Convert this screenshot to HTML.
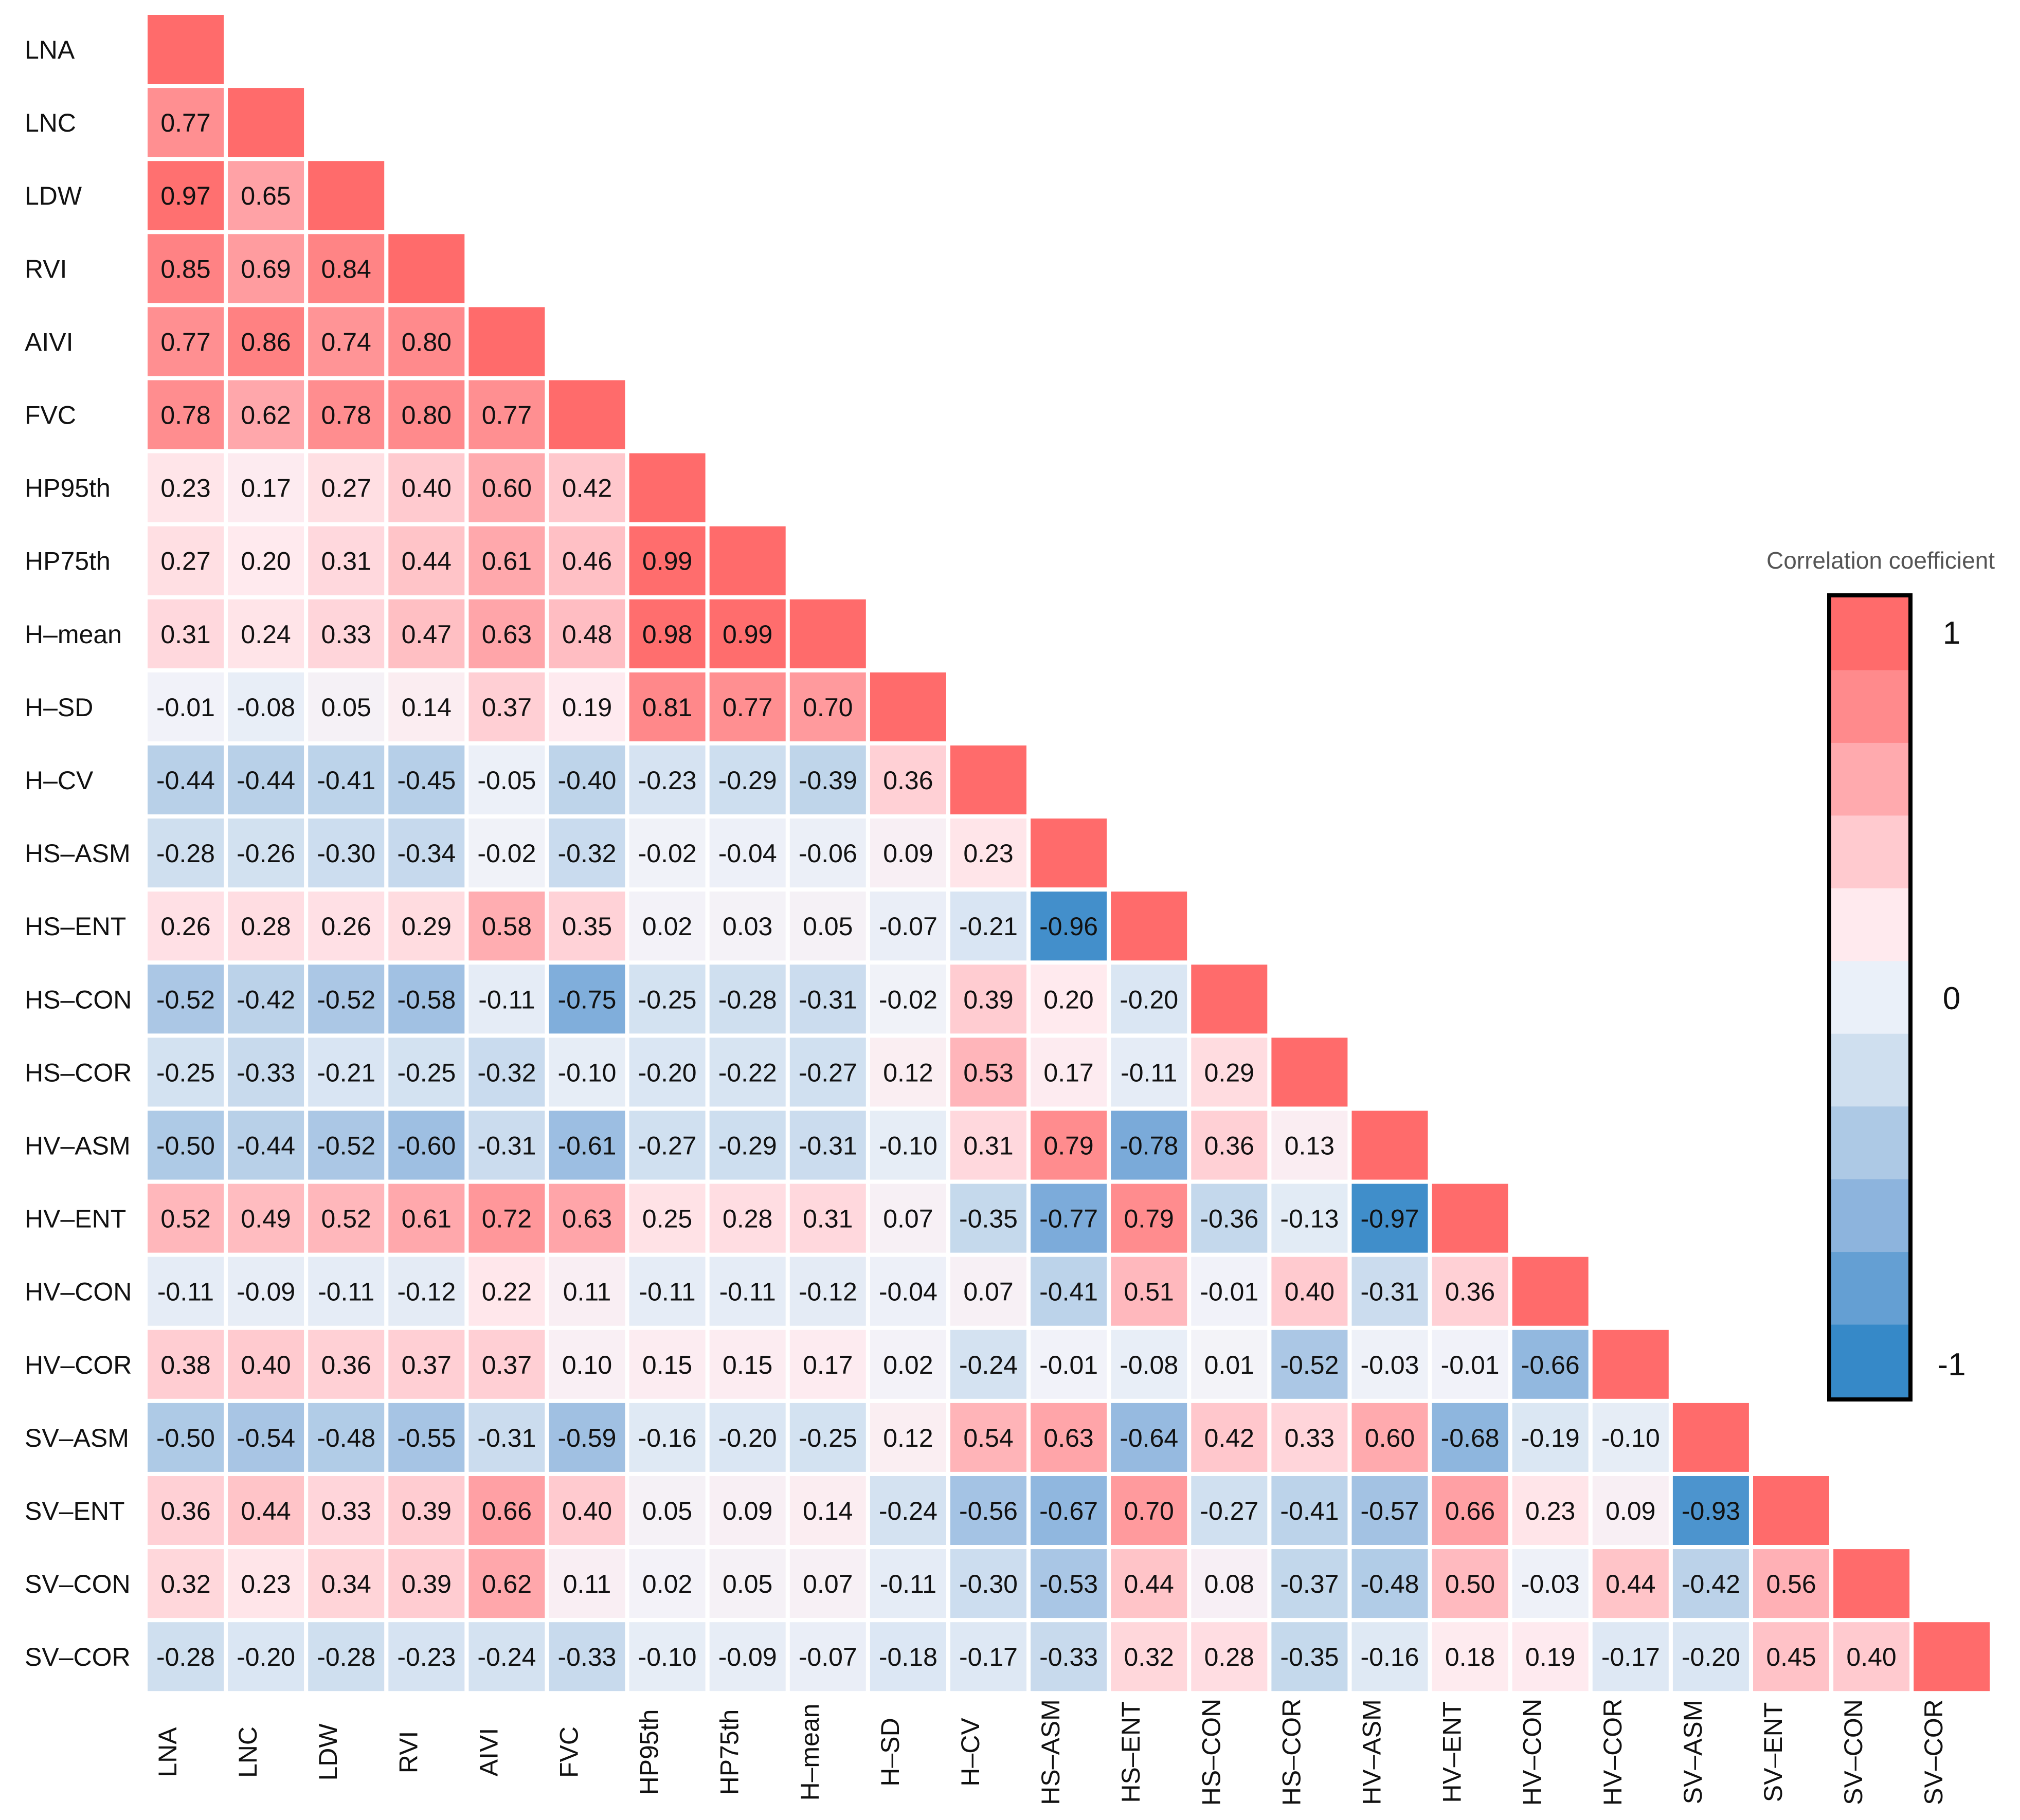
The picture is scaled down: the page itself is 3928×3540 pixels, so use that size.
<!DOCTYPE html>
<html><head><meta charset="utf-8"><style>
html,body{margin:0;padding:0;background:#fff;}
svg{display:block;font-family:"Liberation Sans",sans-serif;}
</style></head><body>
<svg id="chart" width="3928" height="3540" viewBox="0 0 3928 3540" xmlns="http://www.w3.org/2000/svg">
<rect width="3928" height="3540" fill="#fff"/>
<g id="cells"></g>
<g id="rowlabels"></g>
<g id="collabels"></g>
<g id="legend"></g>
</svg>
<script>
const categories = ["LNA","LNC","LDW","RVI","AIVI","FVC","HP95th","HP75th","H–mean","H–SD","H–CV","HS–ASM","HS–ENT","HS–CON","HS–COR","HV–ASM","HV–ENT","HV–CON","HV–COR","SV–ASM","SV–ENT","SV–CON","SV–COR"];
const rows = [
[],
[.77],
[.97,.65],
[.85,.69,.84],
[.77,.86,.74,.80],
[.78,.62,.78,.80,.77],
[.23,.17,.27,.40,.60,.42],
[.27,.20,.31,.44,.61,.46,.99],
[.31,.24,.33,.47,.63,.48,.98,.99],
[-.01,-.08,.05,.14,.37,.19,.81,.77,.70],
[-.44,-.44,-.41,-.45,-.05,-.40,-.23,-.29,-.39,.36],
[-.28,-.26,-.30,-.34,-.02,-.32,-.02,-.04,-.06,.09,.23],
[.26,.28,.26,.29,.58,.35,.02,.03,.05,-.07,-.21,-.96],
[-.52,-.42,-.52,-.58,-.11,-.75,-.25,-.28,-.31,-.02,.39,.20,-.20],
[-.25,-.33,-.21,-.25,-.32,-.10,-.20,-.22,-.27,.12,.53,.17,-.11,.29],
[-.50,-.44,-.52,-.60,-.31,-.61,-.27,-.29,-.31,-.10,.31,.79,-.78,.36,.13],
[.52,.49,.52,.61,.72,.63,.25,.28,.31,.07,-.35,-.77,.79,-.36,-.13,-.97],
[-.11,-.09,-.11,-.12,.22,.11,-.11,-.11,-.12,-.04,.07,-.41,.51,-.01,.40,-.31,.36],
[.38,.40,.36,.37,.37,.10,.15,.15,.17,.02,-.24,-.01,-.08,.01,-.52,-.03,-.01,-.66],
[-.50,-.54,-.48,-.55,-.31,-.59,-.16,-.20,-.25,.12,.54,.63,-.64,.42,.33,.60,-.68,-.19,-.10],
[.36,.44,.33,.39,.66,.40,.05,.09,.14,-.24,-.56,-.67,.70,-.27,-.41,-.57,.66,.23,.09,-.93],
[.32,.23,.34,.39,.62,.11,.02,.05,.07,-.11,-.30,-.53,.44,.08,-.37,-.48,.50,-.03,.44,-.42,.56],
[-.28,-.20,-.28,-.23,-.24,-.33,-.10,-.09,-.07,-.18,-.17,-.33,.32,.28,-.35,-.16,.18,.19,-.17,-.20,.45,.40]
];
const legendTicks = [1,0,-1];
const legendColors = ["#ff6b6b","#ff8a8c","#ffaaae","#ffcacf","#ffeaee","#eaf0f9","#cfdfef","#adc9e5","#8db4dd","#649fd3","#3689c8"];

const NS="http://www.w3.org/2000/svg";
const X0=287, PX=156.1, CW=148, Y0=29, PY=142.1, CH=134;
const xPos=j=>X0+PX*j, yPos=i=>Y0+PY*i;
const stops=[[1,[255,107,107]],[.8,[255,138,140]],[.6,[255,170,174]],[.4,[255,202,207]],[.2,[255,234,238]],[0,[242,243,249]],[-.2,[218,230,243]],[-.4,[190,212,234]],[-.6,[158,191,226]],[-.8,[118,168,216]],[-1,[54,137,200]]];
function color(v){
  for(let k=0;k<stops.length-1;k++){const a=stops[k],b=stops[k+1];
    if(v<=a[0]&&v>=b[0]){const t=(a[0]-v)/(a[0]-b[0]);
      const c=a[1].map((x,i)=>Math.round(x+(b[1][i]-x)*t));return `rgb(${c.join(',')})`;}}
  return v>0?"rgb(255,107,107)":"rgb(54,137,200)";
}
function el(tag,attrs,parent,txt){const e=document.createElementNS(NS,tag);for(const k in attrs)e.setAttribute(k,attrs[k]);if(txt!==undefined)e.textContent=txt;parent.appendChild(e);return e;}
const gc=document.getElementById('cells'), gr=document.getElementById('rowlabels'), gcl=document.getElementById('collabels'), gl=document.getElementById('legend');
const fmt=v=>(v<0?"-":"")+Math.abs(v).toFixed(2);
rows.forEach((r,i)=>{
  const vals=r.concat([1]);
  vals.forEach((v,j)=>{
    const rc=el('rect',{x:xPos(j),y:yPos(i),width:CW,height:CH,fill:color(v)},gc);
    
    
    if(j<i){
      const t=el('text',{x:xPos(j)+CW/2,y:yPos(i)+CH/2+18,'font-size':50,'text-anchor':'middle',fill:'#111'},gc,fmt(v));
      
      
    }
  });
});
categories.forEach((c,i)=>{
  const t=el('text',{x:48,y:yPos(i)+CH/2+18,'font-size':50,fill:'#111'},gr,c);
  
  
  const cx=xPos(i)+CW/2-18, cy=3408;
  const u=el('text',{x:cx,y:cy,'font-size':50,fill:'#111','text-anchor':'middle',transform:`rotate(-90 ${cx} ${cy})`},gcl,c);
  
  
});
const LX=3561, LW=150, LY0=1162, LH=1556;
const bh=LH/legendColors.length;
legendColors.forEach((c,k)=>{
  const r=el('rect',{x:LX,y:LY0+k*bh,width:LW,height:bh+1,fill:c},gl);
  
  
});
const bd=el('rect',{x:LX-4,y:LY0-4,width:LW+8,height:LH+8,fill:'none',stroke:'#000','stroke-width':8},gl);


legendTicks.forEach(v=>{
  const y=v===1?1230:v===0?1941:2653;
  const t=el('text',{x:3795,y:y+22,'font-size':62,'text-anchor':'middle',fill:'#111'},gl,v<0?"-"+Math.abs(v):String(v));
  
  
});
const tt=el('text',{x:3657,y:1106,'font-size':46,'text-anchor':'middle',fill:'#555'},gl,'Correlation coefficient');


</script>
</body></html>
